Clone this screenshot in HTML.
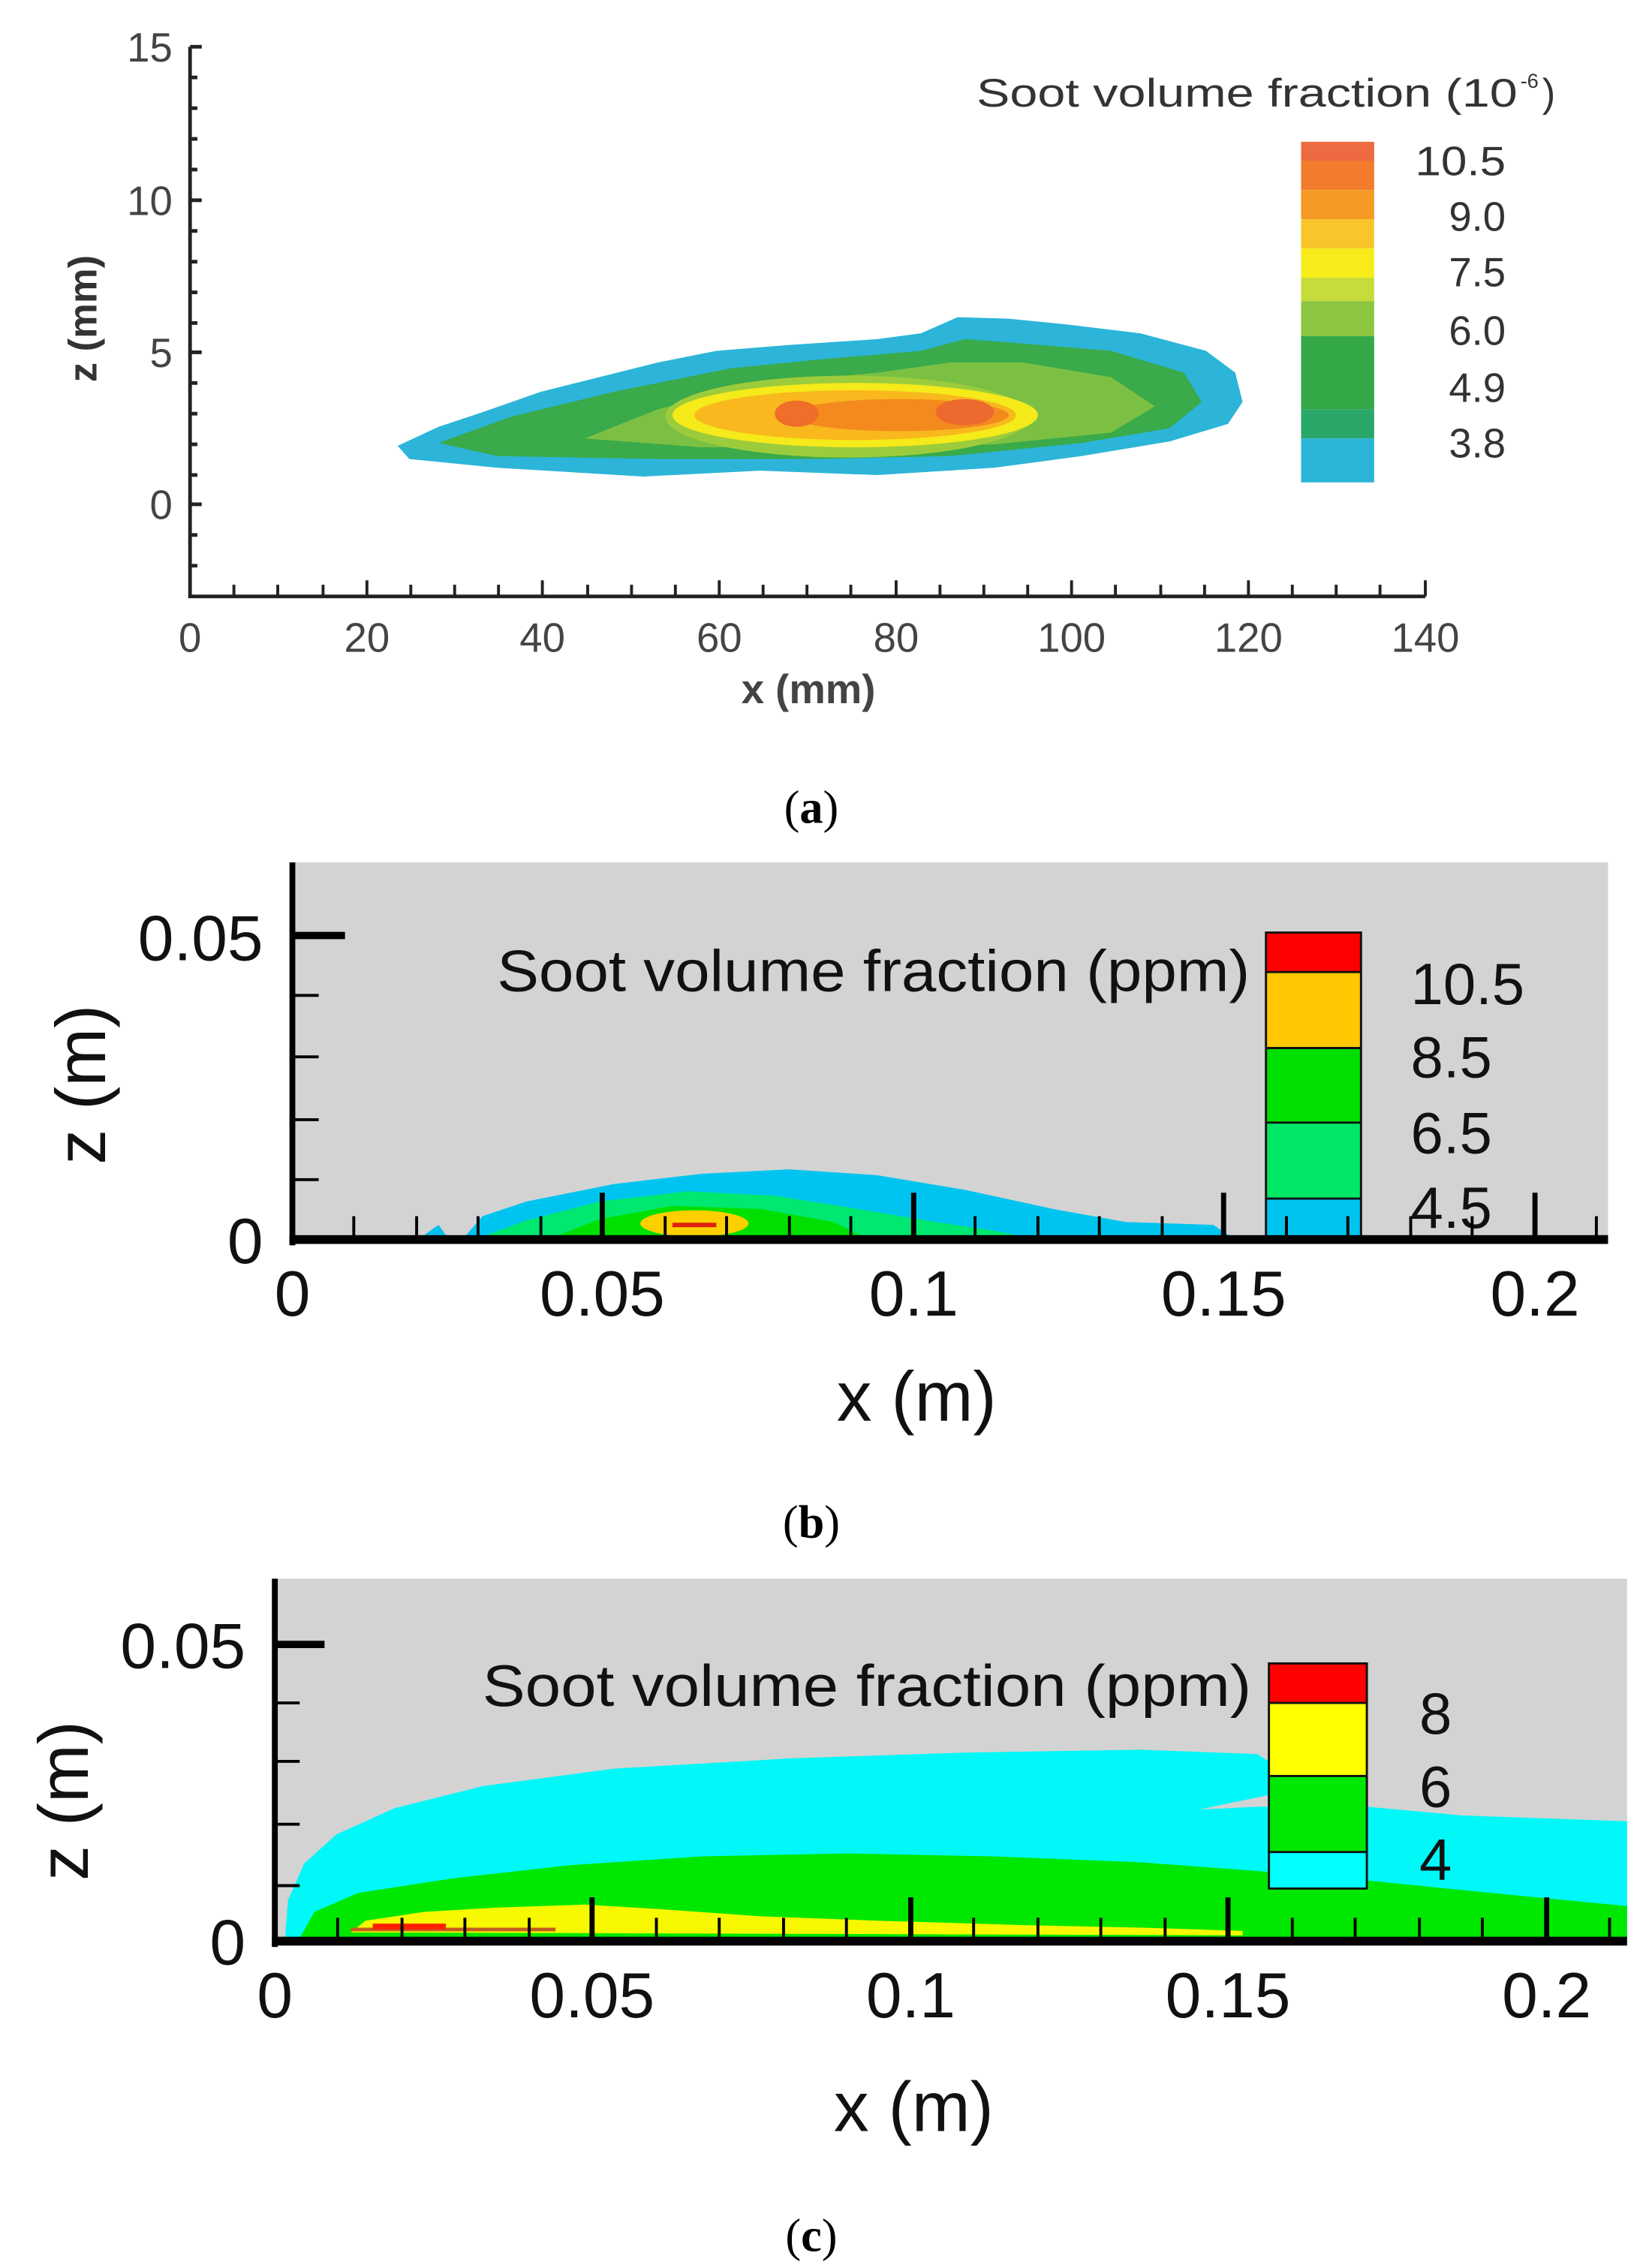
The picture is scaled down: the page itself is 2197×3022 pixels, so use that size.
<!DOCTYPE html>
<html><head><meta charset="utf-8"><style>
html,body{margin:0;padding:0;background:#fff;}
svg{display:block;}
text{font-family:"Liberation Sans",sans-serif;}
</style></head><body>
<svg width="2197" height="3022" viewBox="0 0 1128 1551.6" preserveAspectRatio="none" xmlns="http://www.w3.org/2000/svg">
<rect width="1128" height="1552" fill="#fff"/>
<!-- Panel a -->
<g>
<path d="M272,305 L300,292 L330,282 L370,268 L410,258 L450,248 L490,240 L540,236 L600,232 L630,228 L655,217 L690,218 L730,222 L780,228 L825,240 L845,255 L850,275 L840,290 L800,302 L740,312 L680,320 L600,325 L520,322 L440,326 L340,320 L280,314 Z" fill="#2cb5d8"/>
<path d="M300,303 L350,285 L420,268 L500,252 L560,246 L630,240 L660,232 L700,235 L760,240 L810,255 L822,275 L800,293 L740,303 L650,312 L560,314 L450,314 L340,312 Z" fill="#3aaa4a"/>
<path d="M400,300 L450,280 L520,262 L600,255 L650,248 L700,248 L760,258 L790,278 L760,296 L680,304 L580,306 L480,306 Z" fill="#7cc043"/>
<ellipse cx="580" cy="285" rx="125" ry="28" fill="#9ccc3c"/>
<ellipse cx="585" cy="284" rx="125" ry="22" fill="#f5ea1a"/>
<ellipse cx="585" cy="284" rx="110" ry="17" fill="#f8b81e"/>
<ellipse cx="615" cy="284" rx="75" ry="11" fill="#f48a1e"/>
<ellipse cx="545" cy="283" rx="15" ry="9" fill="#ee6e2a"/>
<ellipse cx="660" cy="282" rx="20" ry="9" fill="#ec6a2e"/>
<!-- colorbar a -->
<rect x="890" y="97" width="50" height="14" fill="#ee6a40"/>
<rect x="890" y="110" width="50" height="20" fill="#f27c2c"/>
<rect x="890" y="130" width="50" height="20" fill="#f59a24"/>
<rect x="890" y="150" width="50" height="20" fill="#f9c52a"/>
<rect x="890" y="170" width="50" height="20" fill="#f7ec1a"/>
<rect x="890" y="190" width="50" height="16" fill="#c6dc3a"/>
<rect x="890" y="206" width="50" height="24" fill="#8cc540"/>
<rect x="890" y="230" width="50" height="50" fill="#35a948"/>
<rect x="890" y="280" width="50" height="20" fill="#2aa86a"/>
<rect x="890" y="300" width="50" height="30" fill="#2ab5d6"/>
<g font-size="28" fill="#333" text-anchor="end">
<text x="1030" y="120" textLength="62" lengthAdjust="spacingAndGlyphs">10.5</text><text x="1030" y="158">9.0</text><text x="1030" y="196">7.5</text>
<text x="1030" y="236">6.0</text><text x="1030" y="275">4.9</text><text x="1030" y="313">3.8</text>
</g>
<text x="668" y="73" font-size="27" fill="#333" textLength="370" lengthAdjust="spacingAndGlyphs">Soot volume fraction (10</text>
<text x="1040" y="60" font-size="14" fill="#333">-6</text><text x="1055" y="73" font-size="27" fill="#333">)</text>
<!-- axes a -->
<g stroke="#222" stroke-width="2.5" fill="none">
<path d="M130,32 V408 H975"/>
<path d="M130,32 H138 M130,53 H135 M130,74 H135 M130,95 H135 M130,116 H135 M130,137 H138 M130,158 H135 M130,179 H135 M130,200 H135 M130,221 H135 M130,241 H138 M130,262 H135 M130,283 H135 M130,304 H135 M130,325 H135 M130,345 H138 M130,366 H135 M130,387 H135"/>
</g>
<g stroke="#222" stroke-width="2">
<path d="M160,408 V400 M190,408 V400 M221,408 V400 M251,408 V397 M281,408 V400 M311,408 V400 M341,408 V400 M371,408 V397 M402,408 V400 M432,408 V400 M462,408 V400 M492,408 V397 M522,408 V400 M552,408 V400 M582,408 V400 M613,408 V397 M643,408 V400 M673,408 V400 M703,408 V400 M733,408 V397 M763,408 V400 M794,408 V400 M824,408 V400 M854,408 V397 M884,408 V400 M914,408 V400 M944,408 V400 M975,408 V397"/>
</g>
<g font-size="28" fill="#444" text-anchor="end">
<text x="118" y="42">15</text><text x="118" y="147">10</text><text x="118" y="251">5</text><text x="118" y="355">0</text>
</g>
<g font-size="28" fill="#444" text-anchor="middle">
<text x="130" y="446">0</text><text x="251" y="446">20</text><text x="371" y="446">40</text><text x="492" y="446">60</text>
<text x="613" y="446">80</text><text x="733" y="446">100</text><text x="854" y="446">120</text><text x="975" y="446">140</text>
<text x="553" y="481" font-weight="bold">x (mm)</text>
</g>
<text transform="translate(66,218) rotate(-90)" font-size="27" fill="#333" font-weight="bold" text-anchor="middle">z (mm)</text>
<text x="555" y="563" font-size="32" text-anchor="middle" style="font-family:'Liberation Serif',serif">(<tspan font-weight="bold">a</tspan>)</text>
</g>

<!-- Panel b -->
<g>
<rect x="200" y="590" width="900" height="258" fill="#d3d3d3"/>
<path d="M290,845 L300,838 L305,845 Z" fill="#00bfee"/>
<path d="M318,846 L330,832 L360,822 L420,810 L480,803 L540,800 L600,804 L660,814 L720,827 L770,836 L830,838 L842,846 Z" fill="#00c4f0"/>
<path d="M330,846 L360,835 L410,822 L470,815 L530,818 L580,826 L640,836 L680,842 L700,846 Z" fill="#00e870"/>
<path d="M380,846 L410,834 L460,825 L520,827 L570,836 L590,846 Z" fill="#00e000"/>
<ellipse cx="475" cy="837" rx="37" ry="9" fill="#ffd000"/>
<path d="M460,838 H490" stroke="#e02010" stroke-width="3"/>
<!-- colorbar b -->
<rect x="866" y="638" width="65" height="27" fill="#ff0000"/>
<rect x="866" y="665" width="65" height="52" fill="#ffc800"/>
<rect x="866" y="717" width="65" height="51" fill="#00e000"/>
<rect x="866" y="768" width="65" height="52" fill="#00e866"/>
<rect x="866" y="820" width="65" height="28" fill="#00c4f0"/>
<g stroke="#111" stroke-width="1.5" fill="none">
<rect x="866" y="638" width="65" height="210"/>
<path d="M866,665 H931 M866,717 H931 M866,768 H931 M866,820 H931"/>
</g>
<text x="340" y="678" font-size="40" fill="#111" textLength="515" lengthAdjust="spacingAndGlyphs">Soot volume fraction (ppm)</text>
<g font-size="40" fill="#111">
<text x="965" y="687">10.5</text><text x="965" y="737">8.5</text><text x="965" y="789">6.5</text><text x="965" y="840">4.5</text>
</g>
<g stroke="#000" fill="none">
<path d="M200,590 V852" stroke-width="4"/>
<path d="M198,848 H1100" stroke-width="6"/>
<path d="M200,640 H236" stroke-width="5"/>
<path d="M200,681 H218 M200,723 H218 M200,766 H218 M200,807 H218" stroke-width="2"/>
<path d="M412,848 V816 M625,848 V816 M837,848 V816 M1050,848 V816" stroke-width="3.5"/>
<path d="M242,848 V832 M285,848 V832 M327,848 V832 M370,848 V832 M455,848 V832 M497,848 V832 M540,848 V832 M582,848 V832 M667,848 V832 M710,848 V832 M752,848 V832 M795,848 V832 M880,848 V832 M922,848 V832 M965,848 V832 M1007,848 V832 M1092,848 V832" stroke-width="2"/>
</g>
<g font-size="44" fill="#111" text-anchor="middle">
<text x="200" y="900">0</text><text x="412" y="900">0.05</text><text x="625" y="900">0.1</text><text x="837" y="900">0.15</text><text x="1050" y="900">0.2</text>
<text x="627" y="972" font-size="48">x (m)</text>
</g>
<g font-size="44" fill="#111" text-anchor="end">
<text x="180" y="657">0.05</text><text x="180" y="864">0</text>
</g>
<text transform="translate(72,742) rotate(-90)" font-size="48" fill="#111" text-anchor="middle">z (m)</text>
<text x="555" y="1052" font-size="32" text-anchor="middle" style="font-family:'Liberation Serif',serif">(<tspan font-weight="bold">b</tspan>)</text>
</g>

<!-- Panel c -->
<g>
<rect x="188" y="1080" width="925" height="248" fill="#d3d3d3"/>
<path d="M195,1326 L197,1300 L208,1275 L230,1255 L270,1237 L330,1222 L420,1210 L540,1203 L660,1199 L780,1197 L860,1200 L868,1205 L868,1228 L820,1238 L860,1236 L935,1236 L1000,1242 L1113,1246 L1113,1326 Z" fill="#00f8f8"/>
<path d="M205,1326 L215,1308 L245,1295 L310,1285 L390,1276 L480,1270 L580,1268 L680,1270 L780,1274 L860,1280 L940,1287 L1030,1296 L1113,1304 L1113,1326 Z" fill="#00e800"/>
<path d="M240,1322 L250,1314 L290,1308 L340,1305 L400,1303 L450,1306 L520,1311 L600,1314 L700,1317 L790,1319 L850,1321 L850,1324 Z" fill="#f8f800"/>
<path d="M240,1320 H380" stroke="#c06020" stroke-width="2.5"/>
<path d="M255,1318 H305" stroke="#ff2000" stroke-width="4"/>
<!-- colorbar c -->
<rect x="868" y="1138" width="67" height="27" fill="#ff0000"/>
<rect x="868" y="1165" width="67" height="50" fill="#ffff00"/>
<rect x="868" y="1215" width="67" height="52" fill="#00e800"/>
<rect x="868" y="1267" width="67" height="25" fill="#00ffff"/>
<g stroke="#111" stroke-width="1.5" fill="none">
<rect x="868" y="1138" width="67" height="154"/>
<path d="M868,1165 H935 M868,1215 H935 M868,1267 H935"/>
</g>
<text x="330" y="1167" font-size="40" fill="#111" textLength="526" lengthAdjust="spacingAndGlyphs">Soot volume fraction (ppm)</text>
<g font-size="40" fill="#111" text-anchor="middle">
<text x="982" y="1186">8</text><text x="982" y="1236">6</text><text x="982" y="1286">4</text>
</g>
<g stroke="#000" fill="none">
<path d="M188,1080 V1332" stroke-width="4"/>
<path d="M186,1328 H1113" stroke-width="6"/>
<path d="M188,1125 H222" stroke-width="5"/>
<path d="M188,1165 H205 M188,1205 H205 M188,1248 H205 M188,1290 H205" stroke-width="2"/>
<path d="M405,1328 V1298 M623,1328 V1298 M840,1328 V1298 M1058,1328 V1298" stroke-width="3.5"/>
<path d="M231,1328 V1312 M275,1328 V1312 M318,1328 V1312 M362,1328 V1312 M449,1328 V1312 M492,1328 V1312 M536,1328 V1312 M579,1328 V1312 M666,1328 V1312 M710,1328 V1312 M753,1328 V1312 M797,1328 V1312 M884,1328 V1312 M927,1328 V1312 M971,1328 V1312 M1014,1328 V1312 M1101,1328 V1312" stroke-width="2"/>
</g>
<g font-size="44" fill="#111" text-anchor="middle">
<text x="188" y="1380">0</text><text x="405" y="1380">0.05</text><text x="623" y="1380">0.1</text><text x="840" y="1380">0.15</text><text x="1058" y="1380">0.2</text>
<text x="625" y="1458" font-size="48">x (m)</text>
</g>
<g font-size="44" fill="#111" text-anchor="end">
<text x="168" y="1141">0.05</text><text x="168" y="1344">0</text>
</g>
<text transform="translate(60,1232) rotate(-90)" font-size="48" fill="#111" text-anchor="middle">z (m)</text>
<text x="555" y="1540" font-size="32" text-anchor="middle" style="font-family:'Liberation Serif',serif">(<tspan font-weight="bold">c</tspan>)</text>
</g>
</svg>
</body></html>
